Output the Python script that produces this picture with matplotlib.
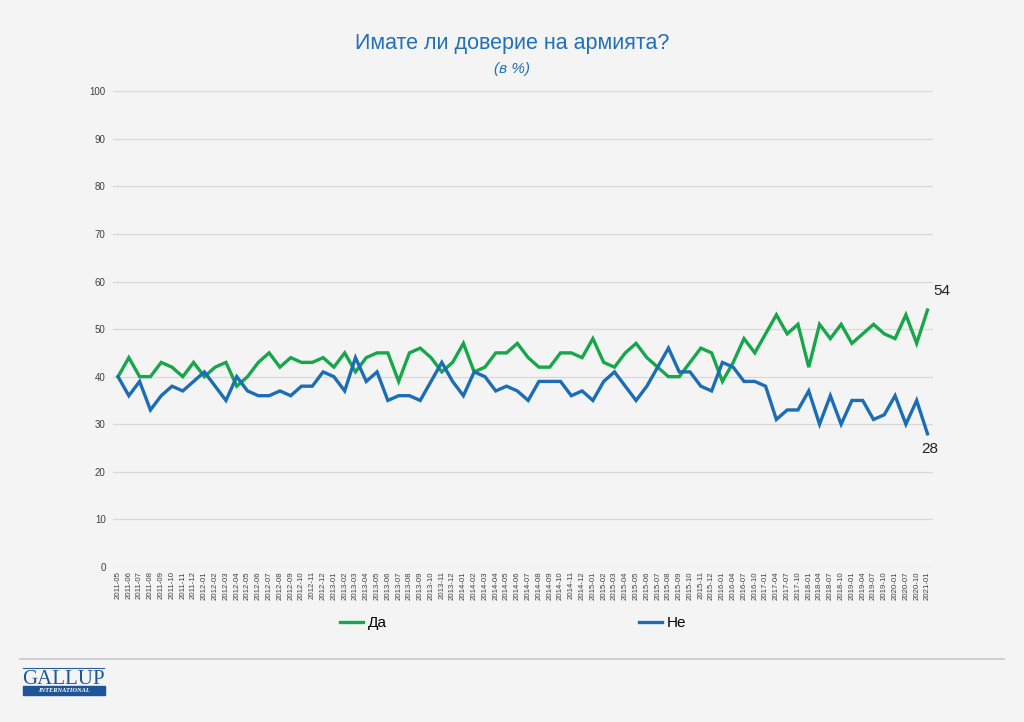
import matplotlib
matplotlib.use("Agg")
import matplotlib.pyplot as plt
from matplotlib.patches import Rectangle
from matplotlib.lines import Line2D

# survey dates (monthly 2011-05 .. 2015-12, then quarterly)
months = ["2011-05", "2011-06", "2011-07", "2011-08", "2011-09", "2011-10", "2011-11", "2011-12",
          "2012-01", "2012-02", "2012-03", "2012-04", "2012-05", "2012-06", "2012-07", "2012-08",
          "2012-09", "2012-10", "2012-11", "2012-12", "2013-01", "2013-02", "2013-03", "2013-04",
          "2013-05", "2013-06", "2013-07", "2013-08", "2013-09", "2013-10", "2013-11", "2013-12",
          "2014-01", "2014-02", "2014-03", "2014-04", "2014-05", "2014-06", "2014-07", "2014-08",
          "2014-09", "2014-10", "2014-11", "2014-12", "2015-01", "2015-02", "2015-03", "2015-04",
          "2015-05", "2015-06", "2015-07", "2015-08", "2015-09", "2015-10", "2015-11", "2015-12",
          "2016-01", "2016-04", "2016-07", "2016-10", "2017-01", "2017-04", "2017-07", "2017-10",
          "2018-01", "2018-04", "2018-07", "2018-10", "2019-01", "2019-04", "2019-07", "2019-10",
          "2020-01", "2020-07", "2020-10", "2021-01"]

da = [40, 44, 40, 40, 43, 42, 40, 43, 40, 42, 43, 38, 40, 43, 45, 42, 44, 43, 43, 44,
      42, 45, 41, 44, 45, 45, 39, 45, 46, 44, 41, 43, 47, 41, 42, 45, 45, 47, 44, 42,
      42, 45, 45, 44, 48, 43, 42, 45, 47, 44, 42, 40, 40, 43, 46, 45, 39, 43, 48, 45,
      49, 53, 49, 51, 42, 51, 48, 51, 47, 49, 51, 49, 48, 53, 47, 54]

ne = [40, 36, 39, 33, 36, 38, 37, 39, 41, 38, 35, 40, 37, 36, 36, 37, 36, 38, 38, 41,
      40, 37, 44, 39, 41, 35, 36, 36, 35, 39, 43, 39, 36, 41, 40, 37, 38, 37, 35, 39,
      39, 39, 36, 37, 35, 39, 41, 38, 35, 38, 42, 46, 41, 41, 38, 37, 43, 42, 39, 39,
      38, 31, 33, 33, 37, 30, 36, 30, 35, 35, 31, 32, 36, 30, 35, 28]

green = "#17a64a"
blue = "#1b6db5"
bg = "#f4f4f4"

plt.rcParams["font.family"] = ["Liberation Sans", "DejaVu Sans"]

fig = plt.figure(figsize=(10.24, 7.22), dpi=100, facecolor=bg)
ax = fig.add_axes([0.110, 0.2147, 0.801, 0.659], facecolor=bg)

x = range(len(months))
ax.plot(x, da, color=green, lw=2.4, solid_joinstyle="miter")
ax.plot(x, ne, color=blue, lw=2.4, solid_joinstyle="miter")

ax.set_xlim(-0.5, len(months) - 0.5)
ax.set_ylim(0, 100)
ax.set_yticks(range(0, 101, 10))
ax.set_xticks(list(x))
ax.set_xticklabels(months, rotation=90, fontsize=5.6, color="#404040")
ax.tick_params(axis="y", labelsize=7, colors="#404040", length=0, pad=5)
ax.tick_params(axis="x", length=0, pad=3)
ax.grid(axis="y", color="#d9d9d9", lw=0.9)
ax.set_axisbelow(True)
for s in ax.spines.values():
    s.set_visible(False)

# end labels
ax.annotate(str(da[-1]), (len(da) - 1, da[-1]), xytext=(10, 9), textcoords="offset points",
            ha="center", va="bottom", fontsize=11, color="#222222")
ax.annotate(str(ne[-1]), (len(ne) - 1, ne[-1]), xytext=(2, -6), textcoords="offset points",
            ha="center", va="top", fontsize=11, color="#222222")

# title
fig.text(0.5, 0.940, "Имате ли доверие на армията?", ha="center", va="center",
         fontsize=15.5, color="#2170b8")
fig.text(0.5, 0.905, "(в %)", ha="center", va="center", fontsize=11,
         style="italic", color="#2170b8")

# legend
handles = [Line2D([], [], color=green, lw=2.4), Line2D([], [], color=blue, lw=2.4)]
fig.legend(handles, ["Да", "Не"], loc="center", bbox_to_anchor=(0.501, 0.137), ncol=2,
           frameon=False, fontsize=11, handlelength=1.5, handletextpad=0.3,
           columnspacing=16.5)

# footer line + logo
fig.add_artist(Line2D([0.02, 0.98], [0.087, 0.087], color="#c8c8c8", lw=1.2))
fig.add_artist(Line2D([0.022, 0.102], [0.075, 0.075], color="#2a5d9c", lw=0.8))
fig.text(0.062, 0.0585, "GALLUP", ha="center", va="center", fontsize=15,
         family="Liberation Serif", color="#1f5597")
fig.add_artist(Rectangle((0.022, 0.038), 0.081, 0.0125, color="#1f5597",
                         transform=fig.transFigure))
fig.text(0.0625, 0.0442, "INTERNATIONAL", ha="center", va="center", fontsize=4.6,
         family="Liberation Serif", style="italic", weight="bold", color="white")

fig.savefig("out.png", dpi=100, facecolor=bg)
